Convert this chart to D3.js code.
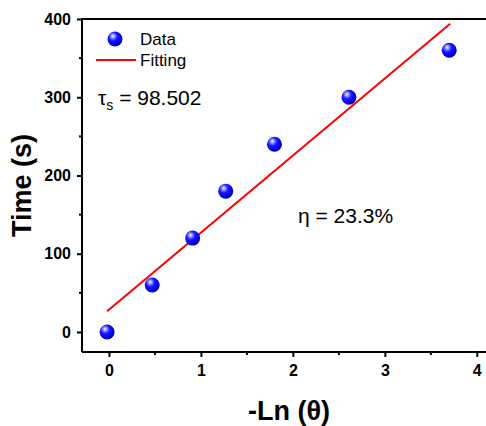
<!DOCTYPE html>
<html>
<head>
<meta charset="utf-8">
<script src="https://cdn.jsdelivr.net/npm/d3@7"></script>
<style>
  html, body { margin: 0; padding: 0; background: #fff; }
  svg { display: block; font-family: "Liberation Sans", Arial, sans-serif; }
</style>
</head>
<body>
<svg id="chart" width="486" height="426"></svg>
<script>
// Measured points: -Ln(theta) vs time
const lnTheta = [-0.02, 0.47, 0.91, 1.27, 1.80, 2.61, 3.70];
const timeS   = [0, 60, 120, 180, 240, 300, 360];

// Linear fit: time = slope * x + intercept
const fitSlope = 98.502;
const fitIntercept = 28.5;
const fitRange = [-0.02, 3.71];

const xTicks = [0, 1, 2, 3, 4];
const yTicks = [0, 100, 200, 300, 400];
const xMinor = [0.5, 1.5, 2.5, 3.5];
const yMinor = [50, 150, 250, 350];

const legendLabels = ["Data", "Fitting"];
const tauLabel = "98.502";
const etaLabel = "η = 23.3%";

const W = 486, H = 426;
const margin = { left: 82, right: 0, top: 19, bottom: 74 };

const svg = d3.select("#chart");

const x = d3.scaleLinear().domain([-0.293, 4.1]).range([margin.left, margin.left + 404]);
const y = d3.scaleLinear().domain([-25.6, 400]).range([H - margin.bottom, margin.top]);

// Sphere-like shading for markers
const defs = svg.append("defs");
const grad = defs.append("radialGradient")
  .attr("id", "ball").attr("cx", "0.38").attr("cy", "0.35").attr("r", "0.65")
  .attr("fx", "0.36").attr("fy", "0.3");
grad.append("stop").attr("offset", "0").attr("stop-color", "#ffffff");
grad.append("stop").attr("offset", "0.18").attr("stop-color", "#9a9aff");
grad.append("stop").attr("offset", "0.45").attr("stop-color", "#1a1aff");
grad.append("stop").attr("offset", "0.85").attr("stop-color", "#0000e0");
grad.append("stop").attr("offset", "1").attr("stop-color", "#0000a8");

// Axes
const xAxis = svg.append("g").attr("transform", `translate(0,${y.range()[0]})`)
  .call(d3.axisBottom(x).tickValues(xTicks).tickSize(5).tickPadding(8).tickFormat(d3.format("d")));
const yAxis = svg.append("g").attr("transform", `translate(${margin.left},0)`)
  .call(d3.axisLeft(y).tickValues(yTicks).tickSize(5).tickPadding(6).tickFormat(d3.format("d")));

[xAxis, yAxis].forEach(g => {
  g.select(".domain").attr("stroke", "#000").attr("stroke-width", 2);
  g.selectAll(".tick line").attr("stroke", "#000").attr("stroke-width", 2);
  g.selectAll(".tick text").attr("fill", "#000")
    .style("font-size", "16px").style("font-weight", "bold")
    .style("font-family", "'Liberation Sans', Arial, sans-serif");
});
xAxis.select(".domain").attr("d", `M${margin.left},0H${W}`);
yAxis.select(".domain").attr("d", `M0,${y.range()[0]}V${margin.top}`);

// Minor ticks
xAxis.selectAll(".minor").data(xMinor).enter().append("line")
  .attr("x1", d => x(d)).attr("x2", d => x(d)).attr("y1", 0).attr("y2", 3)
  .attr("stroke", "#000").attr("stroke-width", 2);
yAxis.selectAll(".minor").data(yMinor).enter().append("line")
  .attr("y1", d => y(d)).attr("y2", d => y(d)).attr("x1", 0).attr("x2", -3)
  .attr("stroke", "#000").attr("stroke-width", 2);

// Top frame line
svg.append("line")
  .attr("x1", margin.left - 1).attr("x2", W).attr("y1", margin.top).attr("y2", margin.top)
  .attr("stroke", "#000").attr("stroke-width", 2);

// Fit line
svg.append("line")
  .attr("x1", x(fitRange[0])).attr("y1", y(fitSlope * fitRange[0] + fitIntercept))
  .attr("x2", x(fitRange[1])).attr("y2", y(fitSlope * fitRange[1] + fitIntercept))
  .attr("stroke", "#ff0000").attr("stroke-width", 2);

// Data markers
svg.selectAll(".pt").data(lnTheta.map((v, i) => [v, timeS[i]])).enter()
  .append("circle")
  .attr("cx", d => x(d[0])).attr("cy", d => y(d[1])).attr("r", 7.5)
  .attr("fill", "url(#ball)");

// Legend
svg.append("circle").attr("cx", 115).attr("cy", 39).attr("r", 7.5).attr("fill", "url(#ball)");
svg.append("text").attr("x", 140).attr("y", 45).text(legendLabels[0])
  .style("font-size", "17px").attr("fill", "#000");
svg.append("line").attr("x1", 96).attr("x2", 136).attr("y1", 60).attr("y2", 60)
  .attr("stroke", "#ff0000").attr("stroke-width", 2);
svg.append("text").attr("x", 140).attr("y", 66).text(legendLabels[1])
  .style("font-size", "17px").attr("fill", "#000");

// Annotations
const tau = svg.append("text").attr("x", 98).attr("y", 105).style("font-size", "21px").attr("fill", "#000");
tau.append("tspan").text("τ");
tau.append("tspan").attr("dy", 5).style("font-size", "14px").text("s");
tau.append("tspan").attr("dy", -5).text(" = " + tauLabel);

svg.append("text").attr("x", 298).attr("y", 223).style("font-size", "21px").attr("fill", "#000").text(etaLabel);

// Axis titles
svg.append("text")
  .attr("transform", `translate(31,${(margin.top + y.range()[0]) / 2}) rotate(-90)`)
  .attr("text-anchor", "middle")
  .style("font-size", "27px").style("font-weight", "bold").attr("fill", "#000")
  .text("Time (s)");
svg.append("text")
  .attr("x", 289).attr("y", 420).attr("text-anchor", "middle")
  .style("font-size", "27px").style("font-weight", "bold").attr("fill", "#000")
  .text("-Ln (θ)");
</script>
</body>
</html>
